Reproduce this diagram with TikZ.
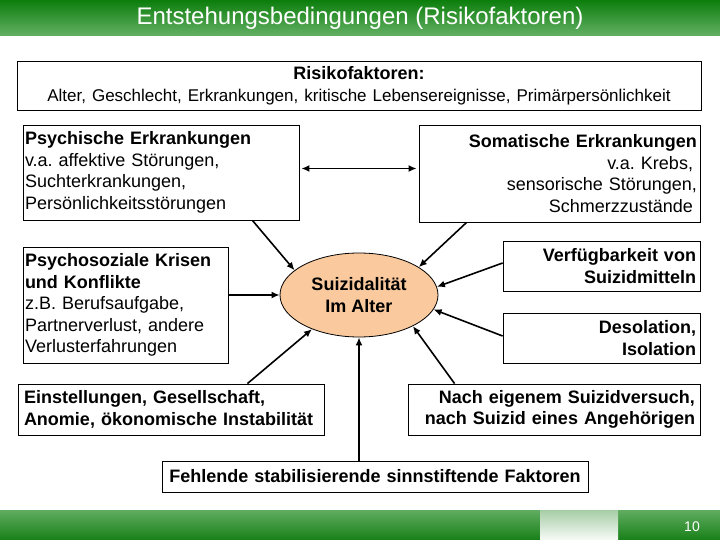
\documentclass[tikz,border=0pt]{standalone}
\usepackage{fontspec}
\setmainfont{Liberation Sans}
\usetikzlibrary{arrows.meta,shapes.geometric}
\definecolor{titletop}{RGB}{12,126,12}
\definecolor{titlebot}{RGB}{100,176,100}
\definecolor{bartop}{RGB}{96,172,96}
\definecolor{barbot}{RGB}{24,128,24}
\definecolor{gaptop}{RGB}{165,205,165}
\definecolor{gapbot}{RGB}{248,251,248}
\definecolor{peach}{RGB}{250,202,158}
\frenchspacing
\begin{document}
\begin{tikzpicture}[x=1pt,y=-1pt,
  box/.style={draw=black, line width=0.8pt, fill=white, inner ysep=0pt,
    font=\fontsize{18}{21.5}\selectfont},
  boldbox/.style={box, font=\fontsize{18}{21.5}\selectfont\bfseries},
  arr/.style={line width=1.6pt, -{Latex[length=8pt,width=7pt]}},
  darr/.style={line width=1.6pt, {Latex[length=8pt,width=7pt]}-{Latex[length=8pt,width=7pt]}, shorten <=2pt, shorten >=2pt}]
\useasboundingbox (0,0) rectangle (720,540);
\fill[white] (0,0) rectangle (720,540);
% title bar
\shade[top color=titletop, bottom color=titlebot] (0,0) rectangle (720,36);
\node[text=white, font=\fontsize{24}{27}\selectfont] (title) at (360,18) {Entstehungsbedingungen (Risikofaktoren)};
% bottom bar
\shade[top color=bartop, bottom color=barbot] (0,510) rectangle (720,540);
\shade[top color=gaptop, bottom color=gapbot] (540,510) rectangle (618,540);
\node[text=white, font=\fontsize{14}{16}\selectfont, anchor=east, inner sep=0pt] (pnum) at (700,527) {10};
% boxes
\node[box, minimum width=684pt, minimum height=49pt, text width=676pt, inner xsep=4pt, align=center] (risk) at (359,85.5)
  {\textbf{Risikofaktoren:}\\{\fontsize{17}{21.5}\selectfont Alter, Geschlecht, Erkrankungen, kritische Lebensereignisse, Primärpersönlichkeit}};
\node[box, minimum width=276pt, minimum height=95pt, text width=272pt, inner xsep=2pt, align=left] (psych) at (161,172.5)
  {\textbf{Psychische Erkrankungen}\\v.a. affektive Störungen,\\Suchterkrankungen,\\Persönlichkeitsstörungen};
\node[box, minimum width=281pt, minimum height=97pt, text width=275pt, inner xsep=3pt, align=right] (soma) at (559.5,173.5)
  {\textbf{Somatische Erkrankungen}\\v.a. Krebs,\kern4pt\\sensorische Störungen,\\Schmerzzustände\kern4pt};
\node[box, minimum width=205pt, minimum height=116pt, text width=201pt, inner xsep=2pt, align=left] (psysoz) at (125.5,305)
  {\textbf{Psychosoziale Krisen}\\\textbf{und Konflikte}\\z.B. Berufsaufgabe,\\Partnerverlust, andere\\Verlusterfahrungen};
\node[boldbox, minimum width=197pt, minimum height=50pt, text width=189pt, inner xsep=4pt, align=right] (verf) at (601.5,266)
  {Verfügbarkeit von\\Suizidmitteln};
\node[boldbox, minimum width=197pt, minimum height=50pt, text width=189pt, inner xsep=4pt, align=right] (deso) at (601.5,338)
  {Desolation,\\Isolation};
\node[boldbox, minimum width=306pt, minimum height=51pt, text width=294pt, inner xsep=6pt, align=left] (einst) at (171,409.5)
  {Einstellungen, Gesellschaft,\\Anomie, ökonomische Instabilität};
\node[boldbox, minimum width=292pt, minimum height=51pt, text width=282pt, inner xsep=5pt, align=right] (nach) at (554,409.5)
  {Nach eigenem Suizidversuch,\\nach Suizid eines Angehörigen};
\node[boldbox, minimum width=426pt, minimum height=31pt, text width=418pt, inner xsep=4pt, align=center] (fehl) at (375,476.5)
  {Fehlende stabilisierende sinnstiftende Faktoren};
% ellipse
\node[ellipse, draw=black, line width=0.8pt, fill=peach, minimum width=158pt, minimum height=84pt, inner sep=0pt, align=center, font=\fontsize{18}{21.5}\selectfont\bfseries] (ell) at (359,295)
  {Suizidalität\\Im Alter};
% connectors
\draw[darr] ([yshift=4pt]psych.east) -- ([yshift=4pt]psych.east -| soma.west);
\draw[arr] ([xshift=-47pt]psych.south east) -- (ell.159);
\draw[arr] ([xshift=48pt]soma.south west) -- (ell.25);
\draw[arr] (psysoz.east |- ell.west) -- (ell.west);
\draw[arr] ([yshift=3pt]verf.west) -- (ell.6);
\draw[arr] ([yshift=2pt]deso.west) -- (ell.349);
\draw[arr] ([xshift=-77pt]einst.north east) -- (ell.216);
\draw[arr] (fehl.north -| ell.south) -- (ell.south);
\draw[arr] ([xshift=47pt]nach.north west) -- (ell.330);
\end{tikzpicture}
\end{document}
